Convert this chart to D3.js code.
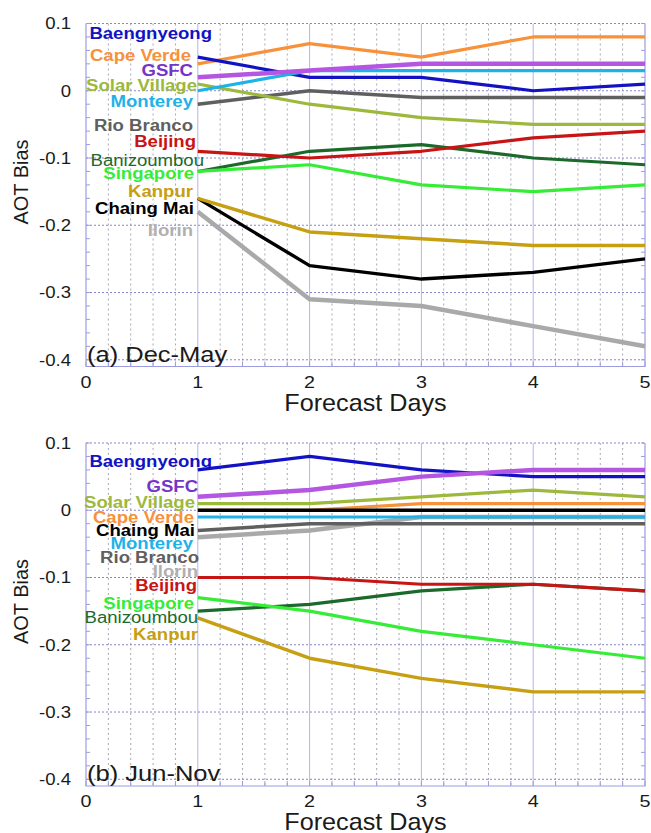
<!DOCTYPE html>
<html>
<head>
<meta charset="utf-8">
<script src="https://cdn.jsdelivr.net/npm/d3@7"></script>
<style>
  body { margin: 0; background: #fff; }
  svg { display: block; }
</style>
</head>
<body>
<svg id="chart" width="651" height="833"></svg>
<script>
// ---- data ----
const days = [1, 2, 3, 4, 5];
const stations = ["Baengnyeong", "Cape Verde", "GSFC", "Solar Village", "Monterey", "Rio Branco",
                  "Beijing", "Banizoumbou", "Singapore", "Kanpur", "Chaing Mai", "Ilorin"];

// AOT bias per station (same order as stations), forecast days 1..5
const biasDecMay = [
  [0.05, 0.02, 0.02, 0.00, 0.01],
  [0.04, 0.07, 0.05, 0.08, 0.08],
  [0.02, 0.03, 0.04, 0.04, 0.04],
  [0.01, -0.02, -0.04, -0.05, -0.05],
  [0.00, 0.03, 0.03, 0.03, 0.03],
  [-0.02, 0.00, -0.01, -0.01, -0.01],
  [-0.09, -0.10, -0.09, -0.07, -0.06],
  [-0.12, -0.09, -0.08, -0.10, -0.11],
  [-0.12, -0.11, -0.14, -0.15, -0.14],
  [-0.16, -0.21, -0.22, -0.23, -0.23],
  [-0.16, -0.26, -0.28, -0.27, -0.25],
  [-0.18, -0.31, -0.32, -0.35, -0.38]
];
const biasJunNov = [
  [0.06, 0.08, 0.06, 0.05, 0.05],
  [0.00, 0.00, 0.01, 0.01, 0.01],
  [0.02, 0.03, 0.05, 0.06, 0.06],
  [0.01, 0.01, 0.02, 0.03, 0.02],
  [-0.01, -0.01, -0.01, -0.01, -0.01],
  [-0.03, -0.02, -0.02, -0.02, -0.02],
  [-0.10, -0.10, -0.11, -0.11, -0.12],
  [-0.15, -0.14, -0.12, -0.11, -0.12],
  [-0.13, -0.15, -0.18, -0.20, -0.22],
  [-0.16, -0.22, -0.25, -0.27, -0.27],
  [0.00, 0.00, 0.00, 0.00, 0.00],
  [-0.04, -0.03, -0.01, -0.01, -0.01]
];

const xTickValues = [0, 1, 2, 3, 4, 5];
const xTickLabels = ["0", "1", "2", "3", "4", "5"];
const yTickValues = [0.1, 0, -0.1, -0.2, -0.3, -0.4];
const yTickLabels = ["0.1", "0", "-0.1", "-0.2", "-0.3", "-0.4"];
const panelTitles = ["(a) Dec-May", "(b) Jun-Nov"];

// ---- styling / layout ----
const lineColors = ["#1212c4", "#f7913a", "#b456e2", "#9cb93c", "#1eb2e8", "#5f5f5f",
                    "#c81414", "#1b6a2c", "#36ec36", "#c6a012", "#000000", "#a9a9a9"];
const labelColors = ["#1212c4", "#f7913a", "#7434c6", "#9cb93c", "#1eb2e8", "#5f5f5f",
                     "#c81414", "#1b6a2c", "#36ec36", "#c6a012", "#000000", "#b0b0b0"];
const lineWidths = [3.2, 3.2, 4.5, 3.2, 3.2, 3.4, 3.2, 3.2, 3.2, 3.4, 3.4, 4.5];
const labelBold = [true, true, true, true, true, true, true, false, true, true, true, true];
// drawing order, back to front
const drawOrder = [11, 1, 0, 5, 3, 10, 9, 7, 8, 6, 4, 2];

// label anchors: [AOT value at label centre, forecast day at label right end]
const labelsDecMay = [
  [0.0854, 1.127], [0.0531, 0.939], [0.0308, 0.957], [0.0085, 0.993],
  [-0.0153, 0.957], [-0.0521, 0.957], [-0.0759, 0.984], [-0.1031, 1.055],
  [-0.1229, 0.966], [-0.1503, 0.957], [-0.175, 0.966], [-0.2073, 0.957]
];
const labelsJunNov = [
  [0.0721, 1.127], [-0.010, 0.966], [0.0358, 1.002], [0.0124, 0.975],
  [-0.0497, 0.957], [-0.0697, 1.011], [-0.112, 0.993], [-0.159, 1.002],
  [-0.139, 0.966], [-0.184, 1.002], [-0.0299, 0.975], [-0.0906, 1.002]
];

const FONT = "'Liberation Sans', Arial, Helvetica, sans-serif";
const STRETCH = 1.16;
const frameColor = "#9c9ce0";

const svg = d3.select("#chart");
const x = d3.scaleLinear().domain([0, 5]).range([86, 645]);

function stretchedText(g, str, px, py, opts) {
  const t = g.append("text")
    .attr("transform", `translate(${px},${py}) scale(${opts.sx || STRETCH},1)`)
    .attr("font-family", FONT)
    .attr("font-size", opts.size)
    .attr("font-weight", opts.bold ? "bold" : "normal")
    .attr("text-anchor", opts.anchor || "start")
    .attr("fill", opts.fill || "#1a1a1a")
    .text(str);
  if (opts.dy) t.attr("dy", opts.dy);
  return t;
}

function drawPanel(series, labels, title, yTop, yBottom) {
  const y = d3.scaleLinear().domain([-0.41, 0.1]).range([yBottom, yTop]);
  const g = svg.append("g");
  const [x0, x1] = x.range();

  // minor vertical grid (every 0.2 day)
  const minorX = d3.range(0.2, 5, 0.2).filter(v => Math.abs(v - Math.round(v)) > 1e-6);
  g.selectAll(".vminor").data(minorX).enter().append("line")
    .attr("x1", d => x(d)).attr("x2", d => x(d))
    .attr("y1", yTop).attr("y2", yBottom)
    .attr("stroke", "#a8a8b4").attr("stroke-width", 1).attr("stroke-dasharray", "2,3");
  // major vertical grid
  g.selectAll(".vmajor").data([1, 2, 3, 4]).enter().append("line")
    .attr("x1", d => x(d)).attr("x2", d => x(d))
    .attr("y1", yTop).attr("y2", yBottom)
    .attr("stroke", "#b4b4ee").attr("stroke-width", 1);
  // horizontal dotted grid
  g.selectAll(".hgrid").data(yTickValues).enter().append("line")
    .attr("x1", x0).attr("x2", x1)
    .attr("y1", d => y(d)).attr("y2", d => y(d))
    .attr("stroke", "#8686cc").attr("stroke-width", 1).attr("stroke-dasharray", "2,2");

  // y minor ticks (0.02) on both sides, pointing inward
  const yMinor = d3.range(-0.40, 0.1001, 0.02);
  g.selectAll(".ytl").data(yMinor).enter().append("line")
    .attr("x1", x0).attr("x2", x0 + 4)
    .attr("y1", d => y(d)).attr("y2", d => y(d))
    .attr("stroke", frameColor).attr("stroke-width", 1);
  g.selectAll(".ytr").data(yMinor).enter().append("line")
    .attr("x1", x1 - 4).attr("x2", x1)
    .attr("y1", d => y(d)).attr("y2", d => y(d))
    .attr("stroke", frameColor).attr("stroke-width", 1);
  // x ticks (0.2) pointing up
  g.selectAll(".xt").data(d3.range(0, 5.001, 0.2)).enter().append("line")
    .attr("x1", d => x(d)).attr("x2", d => x(d))
    .attr("y1", yBottom).attr("y2", yBottom - 5)
    .attr("stroke", frameColor).attr("stroke-width", 1);

  // frame (left, bottom, right)
  g.append("path")
    .attr("d", `M${x0},${yTop}V${yBottom}H${x1}V${yTop}`)
    .attr("fill", "none").attr("stroke", frameColor).attr("stroke-width", 1.2);

  // series lines
  const line = d3.line().x((d, i) => x(days[i])).y(d => y(d));
  drawOrder.forEach(k => {
    g.append("path")
      .datum(series[k])
      .attr("d", line)
      .attr("fill", "none")
      .attr("stroke", lineColors[k])
      .attr("stroke-width", lineWidths[k])
      .attr("stroke-linejoin", "round")
      .attr("stroke-linecap", "butt");
  });

  // station labels
  stations.forEach((name, k) => {
    const [v, d] = labels[k];
    stretchedText(g, name, x(d), y(v), {
      size: 16, bold: labelBold[k], anchor: "end", fill: labelColors[k], dy: "0.35em"
    });
  });

  // tick labels
  yTickValues.forEach((v, i) => {
    stretchedText(g, yTickLabels[i], 71, y(v), { size: 16, anchor: "end", dy: "0.36em" });
  });
  xTickValues.forEach((v, i) => {
    stretchedText(g, xTickLabels[i], x(v), yBottom + 21, { size: 17, anchor: "middle" });
  });

  // panel title
  stretchedText(g, title, x0 + 1, yBottom - 5, { size: 22, anchor: "start" });

  // axis titles
  stretchedText(g, "Forecast Days", (x0 + x1) / 2, yBottom + 44, { size: 24, anchor: "middle", sx: 1.05 });
  g.append("text")
    .attr("transform", `translate(28,${(yTop + yBottom) / 2 - 13}) rotate(-90)`)
    .attr("font-family", FONT)
    .attr("font-size", 20)
    .attr("text-anchor", "middle")
    .attr("fill", "#1a1a1a")
    .text("AOT Bias");
}

drawPanel(biasDecMay, labelsDecMay, panelTitles[0], 23.5, 366.5);
drawPanel(biasJunNov, labelsJunNov, panelTitles[1], 443, 786);
</script>
</body>
</html>
